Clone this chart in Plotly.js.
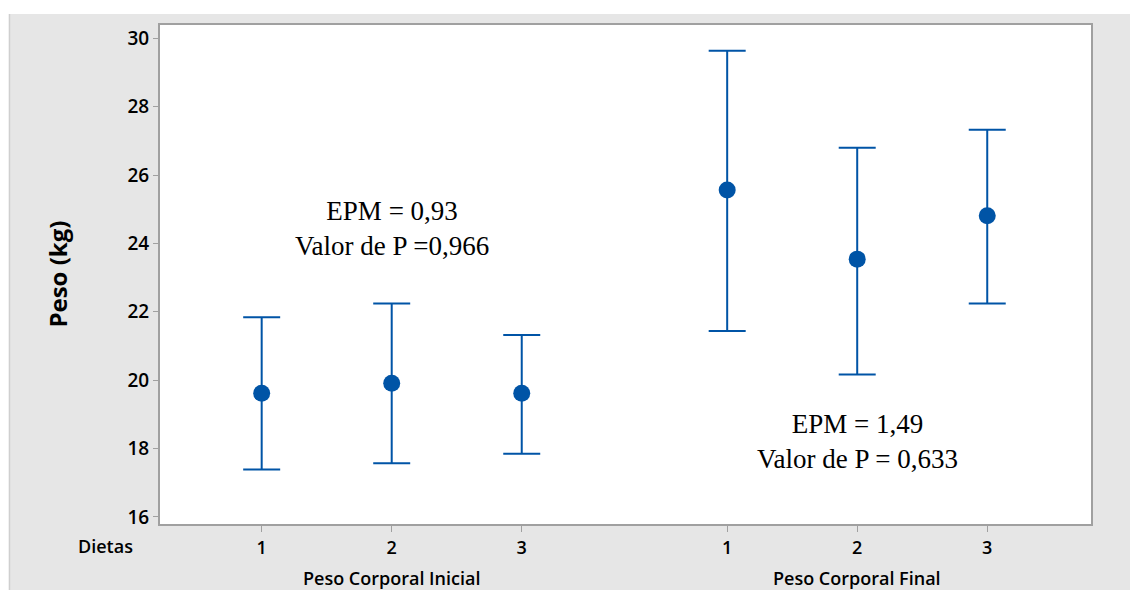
<!DOCTYPE html>
<html>
<head>
<meta charset="utf-8">
<script src="https://cdn.plot.ly/plotly-3.0.1.min.js"></script>
<style>html,body{margin:0;padding:0;background:#fff;}#chart{width:1130px;height:590px;}</style>
</head>
<body>
<div id="chart"></div>
<script>
// ---- data ----
var groups = ['Peso Corporal Inicial', 'Peso Corporal Final'];
var diets = ['1', '2', '3'];
var meanInicial  = [19.62, 19.91, 19.62];
var upperInicial = [21.84, 22.24, 21.32];
var lowerInicial = [17.39, 17.57, 17.85];
var meanFinal  = [25.56, 23.54, 24.81];
var upperFinal = [29.63, 26.80, 27.32];
var lowerFinal = [21.44, 20.17, 22.24];
var notes = ['EPM = 0,93<br>Valor de P =0,966', 'EPM = 1,49<br>Valor de P = 0,633'];
var noteY = [24.44, 18.21];
var yTicks = [16, 18, 20, 22, 24, 26, 28, 30];

// ---- layout constants ----
var groupOffset = [0, 3.58];
var blue = '#0054a6';
var sansFont = 'Open Sans, Noto Sans, sans-serif';

var means = [meanInicial, meanFinal];
var uppers = [upperInicial, upperFinal];
var lowers = [lowerInicial, lowerFinal];

var xs = [], ys = [], plus = [], minus = [], tickText = [];
for (var g = 0; g < groups.length; g++) {
  for (var d = 0; d < diets.length; d++) {
    xs.push(d + 1 + groupOffset[g]);
    ys.push(means[g][d]);
    plus.push(uppers[g][d] - means[g][d]);
    minus.push(means[g][d] - lowers[g][d]);
    tickText.push(diets[d]);
  }
}

var trace = {
  type: 'scatter', mode: 'markers', x: xs, y: ys,
  marker: {color: blue, size: 17},
  error_y: {type: 'data', symmetric: false, array: plus, arrayminus: minus,
            color: blue, thickness: 2, width: 18.5},
  hoverinfo: 'x+y'
};

var annotations = [];
for (var g = 0; g < groups.length; g++) {
  annotations.push({xref: 'x', yref: 'y', x: 2 + groupOffset[g], y: noteY[g], text: notes[g],
    showarrow: false, font: {family: 'Liberation Serif, Times New Roman, serif', size: 27, color: '#000'},
    xanchor: 'center', yanchor: 'middle'});
  annotations.push({xref: 'x', yref: 'paper', x: 2 + groupOffset[g], y: 0, yshift: -54,
    text: groups[g], showarrow: false, xanchor: 'center', yanchor: 'middle',
    font: {family: sansFont, size: 18, weight: 600, color: '#000'}});
}
annotations.push({xref: 'paper', yref: 'paper', x: -0.059, y: 0, yshift: -22, text: 'Dietas',
  showarrow: false, xanchor: 'center', yanchor: 'middle',
  font: {family: sansFont, size: 18, weight: 600, color: '#000'}});
annotations.push({xref: 'paper', yref: 'paper', x: -0.1105, y: 0.5, text: 'Peso (kg)', textangle: -90,
  showarrow: false, xanchor: 'center', yanchor: 'middle',
  font: {family: sansFont, size: 24, weight: 700, color: '#000'}});

var layout = {
  width: 1130, height: 590,
  margin: {l: 160, r: 39, t: 25, b: 66},
  paper_bgcolor: '#e6e6e6', plot_bgcolor: '#ffffff',
  showlegend: false,
  xaxis: {range: [0.218, 7.378], tickvals: xs, ticktext: tickText, showgrid: false, zeroline: false,
          ticks: 'outside', ticklen: 6, tickcolor: '#a0a0a0', tickwidth: 1,
          showline: true, linecolor: '#a0a0a0', linewidth: 2, mirror: true,
          tickfont: {family: sansFont, size: 18, weight: 600, color: '#000'}},
  yaxis: {range: [15.795, 30.386], tickvals: yTicks, showgrid: false, zeroline: false,
          ticks: 'outside', ticklen: 5, tickcolor: '#a0a0a0', tickwidth: 1,
          showline: true, linecolor: '#a0a0a0', linewidth: 2, mirror: true,
          tickfont: {family: sansFont, size: 19, weight: 600, color: '#000'}},
  annotations: annotations,
  shapes: [
    {type: 'rect', xref: 'paper', yref: 'paper', x0: -0.25, x1: 1.1, y0: 1.022, y1: 1.1,
     fillcolor: '#ffffff', line: {width: 0}, layer: 'below'},
    {type: 'rect', xref: 'paper', yref: 'paper', x0: -0.25, x1: -0.1622, y0: -0.2, y1: 1.1,
     fillcolor: '#ffffff', line: {width: 0}, layer: 'below'},
    {type: 'line', xref: 'paper', yref: 'paper', x0: -0.1617, x1: -0.1617, y0: -0.2, y1: 1.022,
     line: {color: '#cfcfcf', width: 1.5}, layer: 'below'}
  ]
};

Plotly.newPlot('chart', [trace], layout, {displayModeBar: false, responsive: false});
</script>
</body>
</html>
